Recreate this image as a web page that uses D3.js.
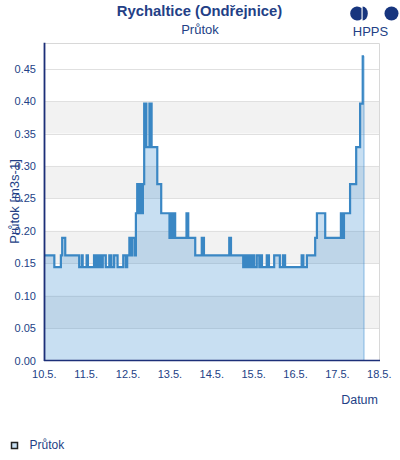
<!DOCTYPE html>
<html><head><meta charset="utf-8">
<script src="https://cdn.jsdelivr.net/npm/d3@7/dist/d3.min.js"></script>
<style>
html,body{margin:0;padding:0;background:#fff;}
svg{display:block;font-family:"Liberation Sans",Arial,sans-serif;}
</style></head>
<body>
<svg id="chart" width="400" height="460"></svg>
<script>
const title = "Rychaltice (Ondřejnice)";
const subtitle = "Průtok";
const seriesName = "Průtok";
const yAxisTitle = "Průtok [m3s-1]";
const xAxisTitle = "Datum";
const yTicks = [0, 0.05, 0.10, 0.15, 0.20, 0.25, 0.30, 0.35, 0.40, 0.45];
const xTickDates = ["05-10","05-11","05-12","05-13","05-14","05-15","05-16","05-17","05-18"];
const xTickLabels = ["10.5.","11.5.","12.5.","13.5.","14.5.","15.5.","16.5.","17.5.","18.5."];

const times = [
"05-10 00:00","05-10 05:45","05-10 09:30","05-10 10:15","05-10 12:00","05-10 20:00","05-10 21:30","05-10 22:00",
"05-11 00:15","05-11 01:00","05-11 04:30","05-11 05:30","05-11 06:00","05-11 07:00","05-11 07:30","05-11 08:15",
"05-11 09:30","05-11 11:15","05-11 13:15","05-11 14:30","05-11 16:00","05-11 18:00","05-11 21:15","05-11 22:45","05-11 23:30",
"05-12 00:45","05-12 02:00","05-12 02:30","05-12 04:00","05-12 04:30","05-12 05:15","05-12 06:00","05-12 06:30",
"05-12 07:00","05-12 07:30","05-12 08:15","05-12 08:30","05-12 09:15","05-12 10:30","05-12 12:15","05-12 13:30",
"05-12 16:45","05-12 19:00","05-12 23:45",
"05-13 00:15","05-13 01:00","05-13 01:30","05-13 02:15","05-13 02:45","05-13 03:00","05-13 09:30","05-13 10:30",
"05-13 14:30","05-13 18:15","05-13 19:30",
"05-14 10:00","05-14 11:00","05-14 18:00","05-14 18:45","05-14 19:15","05-14 20:15","05-14 21:30","05-14 22:00",
"05-14 22:30","05-14 23:30",
"05-15 00:15","05-15 01:45","05-15 03:15","05-15 04:15","05-15 04:45","05-15 07:30","05-15 08:45","05-15 11:45",
"05-15 15:00","05-15 16:45","05-15 18:00",
"05-16 03:30","05-16 04:30","05-16 06:30","05-16 11:15","05-16 12:15","05-16 17:00",
"05-17 02:00","05-17 02:30","05-17 03:00","05-17 03:30","05-17 03:45","05-17 07:15","05-17 10:45","05-17 13:00",
"05-17 14:30","05-17 15:15"
];
const flow = [
0.162,0.144,0.162,0.189,0.162,0.144,0.162,0.144,
0.162,0.144,0.162,0.144,0.162,0.144,0.162,0.144,
0.162,0.144,0.162,0.144,0.162,0.144,0.162,0.144,0.162,
0.189,0.162,0.189,0.162,0.227,0.272,0.227,0.272,
0.227,0.272,0.227,0.272,0.396,0.329,0.396,0.329,
0.272,0.227,0.189,
0.227,0.189,0.227,0.189,0.227,0.189,0.227,0.189,
0.162,0.189,0.162,
0.189,0.162,0.144,0.162,0.144,0.162,0.144,0.162,
0.144,0.162,
0.144,0.162,0.144,0.162,0.144,0.162,0.144,0.162,
0.144,0.162,0.144,
0.162,0.144,0.162,0.189,0.227,0.189,
0.227,0.189,0.227,0.189,0.227,0.272,0.329,0.396,
0.469,0.469
];

const parse = d3.timeParse("%Y-%m-%d %H:%M");
const data = times.map((t,i)=>({t: parse("2024-" + t), v: flow[i]}));

const navy = "#233f86";
const lineColor = "#3a87c4";
const svg = d3.select("#chart");

const L = 44, R = 380, T = 42.7, B = 360.5;
const x = d3.scaleTime()
  .domain([parse("2024-05-10 00:00"), parse("2024-05-18 00:00")])
  .range([44.3, 379.3]);
const y = d3.scaleLinear().domain([0, 0.49]).range([B, T]);

// alternate bands (between tick pairs)
const g = svg.append("g");
for (let i = 1; i + 1 < yTicks.length; i += 2) {
  const lo = yTicks[i], hi = yTicks[i+1];
  g.append("rect").attr("x", L).attr("width", R - L)
    .attr("y", y(hi)).attr("height", y(lo) - y(hi)).attr("fill", "#f2f2f2");
}
// gridlines
g.selectAll("line.grid").data(yTicks.slice(1)).join("line")
  .attr("x1", L).attr("x2", R)
  .attr("y1", d => Math.round(y(d)) + 0.5).attr("y2", d => Math.round(y(d)) + 0.5)
  .attr("stroke", "#e0e0e0").attr("stroke-width", 1);
// plot border top/right
g.append("path").attr("d", `M${L},${Math.round(T)+0.5}H${R - 0.5}V${B}`)
  .attr("fill", "none").attr("stroke", "#d8d8d8").attr("stroke-width", 1);

// area + line
const area = d3.area().x(d => x(d.t)).y0(y(0)).y1(d => y(d.v)).curve(d3.curveStepAfter);
const line = d3.line().x(d => x(d.t)).y(d => y(d.v)).curve(d3.curveStepAfter);
svg.append("path").datum(data).attr("d", area)
  .attr("fill", "rgb(51,136,207)").attr("fill-opacity", 0.27);
const last = data[data.length - 1];
svg.append("line").attr("x1", x(last.t)).attr("x2", x(last.t))
  .attr("y1", y(last.v)).attr("y2", y(0))
  .attr("stroke", "rgb(51,136,207)").attr("stroke-opacity", 0.35).attr("stroke-width", 1.5);
svg.append("path").datum(data).attr("d", line)
  .attr("fill", "none").attr("stroke", lineColor).attr("stroke-width", 2.2)
  .attr("stroke-linejoin", "miter");

// axes lines
svg.append("line").attr("x1", L).attr("x2", R).attr("y1", 360.5).attr("y2", 360.5)
  .attr("stroke", "#1c2f78").attr("stroke-width", 1.6);
svg.append("line").attr("x1", 44.5).attr("x2", 44.5).attr("y1", T).attr("y2", 361)
  .attr("stroke", "#1c2f78").attr("stroke-width", 1.8);

// y tick labels
svg.selectAll("text.yt").data(yTicks).join("text")
  .attr("x", 36).attr("y", d => y(d) + 4)
  .attr("text-anchor", "end").attr("font-size", 11).attr("fill", navy)
  .text(d => d.toFixed(2));
// x tick labels
svg.selectAll("text.xt").data(xTickDates).join("text")
  .attr("x", d => x(parse("2024-" + d + " 00:00"))).attr("y", 377.5)
  .attr("text-anchor", "middle").attr("font-size", 11).attr("fill", navy)
  .text((d,i) => xTickLabels[i]);

// axis titles
svg.append("text").attr("x", 378).attr("y", 403.5).attr("text-anchor", "end")
  .attr("font-size", 12.5).attr("fill", navy).text(xAxisTitle);
svg.append("text").attr("transform", "translate(18.5,201.5) rotate(-90)")
  .attr("text-anchor", "middle").attr("font-size", 13).attr("fill", navy).text(yAxisTitle);

// titles
svg.append("text").attr("x", 199.5).attr("y", 15.5).attr("text-anchor", "middle")
  .attr("font-size", 14.8).attr("font-weight", "bold").attr("fill", navy).text(title);
svg.append("text").attr("x", 200).attr("y", 34).attr("text-anchor", "middle")
  .attr("font-size", 13).attr("fill", navy).text(subtitle);

// logo
const logo = svg.append("g").attr("fill", "#17357e");
logo.append("path").attr("d", "M361.5,8.0 A7,7 0 1 0 361.5,19.0 Z");
logo.append("path").attr("d", "M362.6,6.5 A5.2,7 0 0 1 362.6,20.5 Z");
logo.append("circle").attr("cx", 391.5).attr("cy", 13.5).attr("r", 7);
svg.append("text").attr("x", 370.5).attr("y", 35.7).attr("text-anchor", "middle")
  .attr("font-size", 13).attr("fill", navy).text("HPPS");

// legend
svg.append("rect").attr("x", 11.5).attr("y", 442.5).attr("width", 6).attr("height", 6)
  .attr("fill", "#c8dff2").attr("stroke", "#222").attr("stroke-width", 1.5);
svg.append("text").attr("x", 29.5).attr("y", 449).attr("font-size", 12)
  .attr("fill", navy).text(seriesName);
</script>
</body></html>
